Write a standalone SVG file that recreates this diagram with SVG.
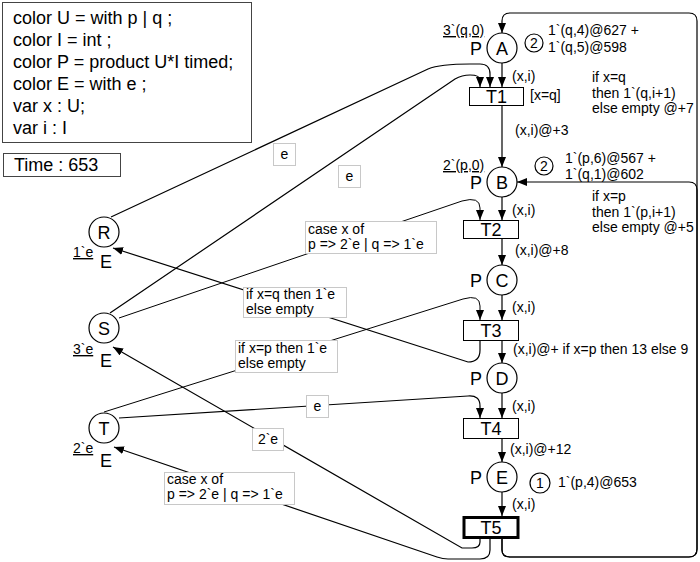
<svg xmlns="http://www.w3.org/2000/svg" width="700" height="562" viewBox="0 0 700 562">
<defs>
<marker id="ah" viewBox="0 0 10 8" refX="10" refY="4" markerWidth="10" markerHeight="8" markerUnits="userSpaceOnUse" orient="auto"><path d="M0,0 L10,4 L0,8 z" fill="#000"/></marker>
</defs>
<style>
text{font-family:"Liberation Sans",Arial,sans-serif;fill:#000}
.big{font-size:18px}
.sm{font-size:14px}
.pl{fill:#fff;stroke:#000;stroke-width:1.2}
.tr{fill:#fff;stroke:#000;stroke-width:1}
.tr.thick{stroke-width:3}
.arc{fill:none;stroke:#000;stroke-width:1.2;marker-end:url(#ah)}
.thin{stroke-width:1}
.lbl{fill:#fff;stroke:#c8c8c8;stroke-width:1}
.box{fill:#fff;stroke:#444;stroke-width:1}
.mid{text-anchor:middle}
.u{text-decoration:underline}
</style>
<rect width="700" height="562" fill="#fff"/>

<g id="declarations">
<rect class="box" x="2.5" y="2.5" width="249" height="140"/>
<text class="big" x="13" y="24">color U = with p | q ;</text>
<text class="big" x="13" y="46">color I = int ;</text>
<text class="big" x="13" y="68">color P = product U*I timed;</text>
<text class="big" x="13" y="90">color E = with e ;</text>
<text class="big" x="13" y="112">var x : U;</text>
<text class="big" x="13" y="134">var i : I</text>
</g>
<g id="time">
<rect class="box" x="3.5" y="153.5" width="117" height="23"/>
<text class="big" x="14" y="171">Time : 653</text>
</g>

<g id="connectors">
<path class="arc" d="M502,63 L502,87"/>
<path class="arc" d="M502,106 L502,167"/>
<path class="arc" d="M502,197 L502,220"/>
<path class="arc" d="M502,239 L502,265"/>
<path class="arc" d="M502,295 L502,320"/>
<path class="arc" d="M502,340 L502,363"/>
<path class="arc" d="M502,393 L502,418"/>
<path class="arc" d="M502,438 L502,462"/>
<path class="arc" d="M502,492 L502,516"/>
<path class="arc" d="M502,538 L502,550 Q502,557 510,557 L689,557 Q697,557 697,549 L697,21 Q697,13 689,13 L510,13 Q502,13 502,21 L502,33"/>
<path class="arc" d="M502,538 L502,550 Q502,557 510,557 L689,557 Q697,557 697,549 L697,190 Q697,182 689,182 L517,182"/>
<path class="arc" d="M111,217 L428,69 Q440,64 470,64 L480,64 Q490,64 490,74 L490,87"/>
<path class="arc" d="M110,313 L455,79 Q462,75 470,75 Q480,75 480,80 L480,87"/>
<path class="arc thin" d="M119,318 L462,201 Q480,196 480,208 L480,220"/>
<path class="arc" d="M480,340 L480,350 Q480,362 468,362 L113,248"/>
<path class="arc thin" d="M104,412 L463,299 Q480,294 480,306 L480,320"/>
<path class="arc" d="M119,418 L468,396 Q480,395 480,406 L480,418"/>
<path class="arc" d="M480,538 L480,542 Q480,548 472,548 L462,548 L113,347"/>
<path class="arc" d="M490,538 L490,550 Q490,559 480,559 L448,559 Q443,559 437,557 L114,447"/>
</g>

<g id="inscriptions">
<rect class="lbl" x="273.5" y="143.5" width="22" height="22"/>
<text class="sm mid" x="284.5" y="159">e</text>
<rect class="lbl" x="338.5" y="165.5" width="22" height="22"/>
<text class="sm mid" x="349.5" y="181">e</text>
<rect class="lbl" x="305.5" y="221.5" width="131" height="32"/>
<text class="sm" x="308" y="234">case x of</text>
<text class="sm" x="308" y="249">p =&gt; 2`e | q =&gt; 1`e</text>
<rect class="lbl" x="243.5" y="287.5" width="103" height="30"/>
<text class="sm" x="246" y="299">if x=q then 1`e</text>
<text class="sm" x="246" y="314">else empty</text>
<rect class="lbl" x="235.5" y="340.5" width="102" height="32"/>
<text class="sm" x="238" y="353">if x=p then 1`e</text>
<text class="sm" x="238" y="368">else empty</text>
<rect class="lbl" x="306.5" y="395.5" width="22" height="22"/>
<text class="sm mid" x="317.5" y="411">e</text>
<rect class="lbl" x="252.5" y="428.5" width="31" height="22"/>
<text class="sm mid" x="268" y="444">2`e</text>
<rect class="lbl" x="164.5" y="472.5" width="130" height="32"/>
<text class="sm" x="167" y="484">case x of</text>
<text class="sm" x="167" y="499">p =&gt; 2`e | q =&gt; 1`e</text>

<text class="sm" x="512" y="81">(x,i)</text>
<text class="sm" x="530" y="100">[x=q]</text>
<text class="sm" x="592" y="82">if x=q</text>
<text class="sm" x="592" y="98">then 1`(q,i+1)</text>
<text class="sm" x="592" y="113">else empty @+7</text>
<text class="sm" x="515" y="135">(x,i)@+3</text>
<text class="sm" x="512" y="215">(x,i)</text>
<text class="sm" x="592" y="201">if x=p</text>
<text class="sm" x="592" y="217">then 1`(p,i+1)</text>
<text class="sm" x="592" y="232">else empty @+5</text>
<text class="sm" x="515" y="255">(x,i)@+8</text>
<text class="sm" x="512" y="312">(x,i)</text>
<text class="sm" x="513" y="354">(x,i)@+ if x=p then 13 else 9</text>
<text class="sm" x="512" y="411">(x,i)</text>
<text class="sm" x="510" y="454">(x,i)@+12</text>
<text class="sm" x="512" y="509">(x,i)</text>
</g>

<g id="place-A">
<circle class="pl" cx="502" cy="48" r="15"/>
<text class="big mid" x="502" y="54.5">A</text>
<text class="big" x="470" y="55">P</text>
<text class="sm u" x="443" y="35">3`(q,0)</text>
<circle class="pl" cx="534" cy="43" r="9"/>
<text class="sm mid" x="534" y="48">2</text>
<text class="sm" x="548" y="35">1`(q,4)@627 +</text>
<text class="sm" x="548" y="52">1`(q,5)@598</text>
</g>
<g id="place-B">
<circle class="pl" cx="502" cy="182" r="15"/>
<text class="big mid" x="502" y="188.5">B</text>
<text class="big" x="470" y="189">P</text>
<text class="sm u" x="443" y="170">2`(p,0)</text>
<circle class="pl" cx="544" cy="166" r="9"/>
<text class="sm mid" x="544" y="171">2</text>
<text class="sm" x="565" y="163">1`(p,6)@567 +</text>
<text class="sm" x="565" y="179">1`(q,1)@602</text>
</g>
<g id="place-C">
<circle class="pl" cx="502" cy="280" r="15"/>
<text class="big mid" x="502" y="286.5">C</text>
<text class="big" x="470" y="287">P</text>
</g>
<g id="place-D">
<circle class="pl" cx="502" cy="378" r="15"/>
<text class="big mid" x="502" y="384.5">D</text>
<text class="big" x="470" y="385">P</text>
</g>
<g id="place-E">
<circle class="pl" cx="502" cy="477" r="15"/>
<text class="big mid" x="502" y="483.5">E</text>
<text class="big" x="470" y="484">P</text>
<circle class="pl" cx="540" cy="483" r="10"/>
<text class="sm mid" x="540" y="488">1</text>
<text class="sm" x="558" y="487">1`(p,4)@653</text>
</g>

<g id="trans-T1">
<rect class="tr" x="469.5" y="87.5" width="54" height="18"/>
<text class="big mid" x="496.5" y="103">T1</text>
</g>
<g id="trans-T2">
<rect class="tr" x="463.5" y="220.5" width="55" height="18"/>
<text class="big mid" x="491" y="236">T2</text>
</g>
<g id="trans-T3">
<rect class="tr" x="463.5" y="320.5" width="55" height="20"/>
<text class="big mid" x="491" y="337">T3</text>
</g>
<g id="trans-T4">
<rect class="tr" x="463.5" y="418.5" width="55" height="20"/>
<text class="big mid" x="491" y="435">T4</text>
</g>
<g id="trans-T5">
<rect class="tr thick" x="464" y="517.5" width="54" height="20"/>
<text class="big mid" x="491" y="534">T5</text>
</g>

<g id="place-R">
<circle class="pl" cx="104" cy="232" r="15"/>
<text class="big mid" x="104" y="238.5">R</text>
<text class="sm u" x="73" y="257">1`e</text>
<text class="big" x="100" y="268">E</text>
</g>
<g id="place-S">
<circle class="pl" cx="104" cy="328" r="15"/>
<text class="big mid" x="104" y="334.5">S</text>
<text class="sm u" x="73" y="354">3`e</text>
<text class="big" x="100" y="367">E</text>
</g>
<g id="place-T">
<circle class="pl" cx="104" cy="428" r="15"/>
<text class="big mid" x="104" y="434.5">T</text>
<text class="sm u" x="73" y="453">2`e</text>
<text class="big" x="100" y="467">E</text>
</g>
</svg>
